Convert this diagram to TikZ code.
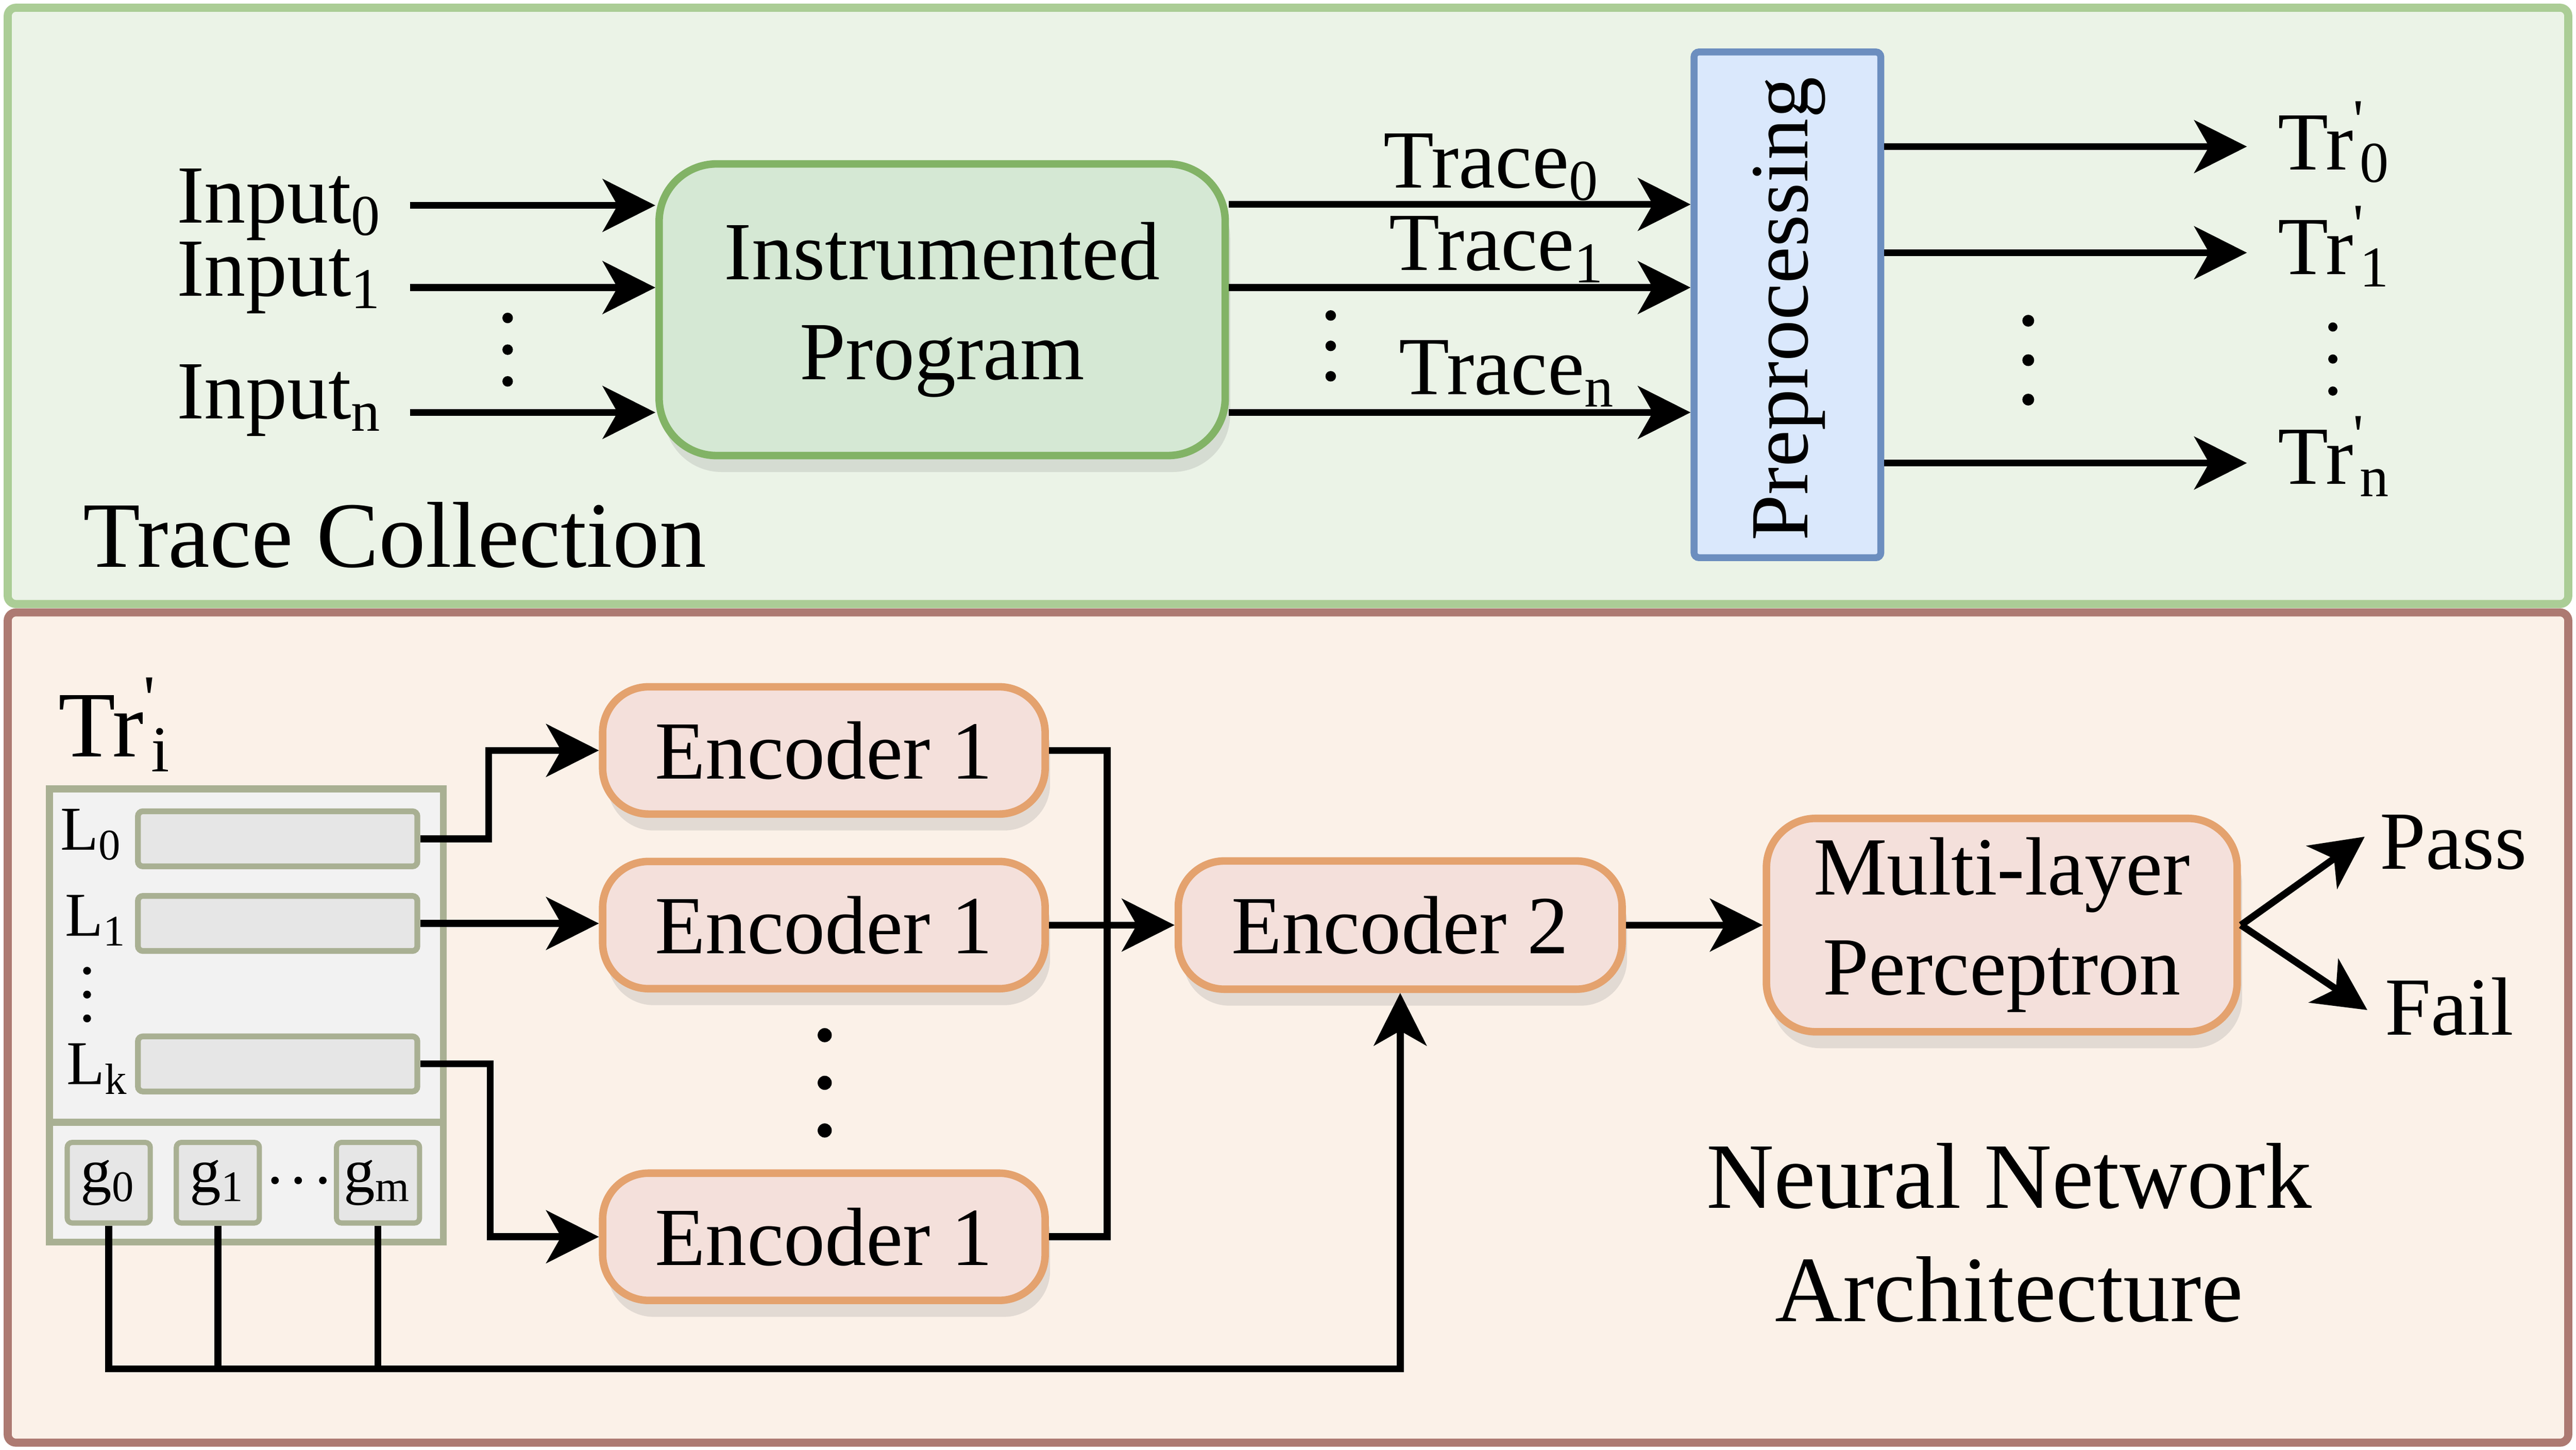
\documentclass[tikz,border=0pt]{standalone}
\usepackage{fontspec}
\setmainfont{Liberation Serif}
\usetikzlibrary{arrows.meta,shadows}

\definecolor{tcfill}{HTML}{EBF3E7}
\definecolor{tcdraw}{HTML}{ABCD96}
\definecolor{nnfill}{HTML}{FBF1E8}
\definecolor{nndraw}{HTML}{AD7A72}
\definecolor{progfill}{HTML}{D5E8D4}
\definecolor{progdraw}{HTML}{82B366}
\definecolor{prefill}{HTML}{DAE8FC}
\definecolor{predraw}{HTML}{6C8EBF}
\definecolor{encfill}{HTML}{F4E0DB}
\definecolor{encdraw}{HTML}{E4A26E}
\definecolor{trfill}{HTML}{F2F2F2}
\definecolor{trdraw}{HTML}{A9B093}
\definecolor{rowfill}{HTML}{E6E6E6}

\newcommand{\panelfont}{\fontsize{16.2}{19.6}\selectfont}
\newcommand{\lfont}{\fontsize{10.8}{13}\selectfont}
\newcommand{\trp}[1]{Tr\rlap{\textsuperscript{\textquotesingle}}\kern0.08em\textsubscript{#1}}

\tikzset{
  arr/.style={line width=1.2pt, -{Stealth[length=3.2mm,width=3.2mm,inset=0.9mm]}},
  wire/.style={line width=1.2pt},
  lbl/.style={anchor=base west, inner sep=0pt},
  panel/.style={line width=1.4pt, rounded corners=0.5mm},
  soft/.style={drop shadow={shadow xshift=0.3mm, shadow yshift=-1mm, opacity=0.2}},
  progbox/.style={draw=progdraw, fill=progfill, line width=1.3pt, rounded corners=3.5mm,
    align=center, soft, minimum width=3.444cm, minimum height=1.774cm},
  prebox/.style={draw=predraw, fill=prefill, line width=1.2pt, rounded corners=0.3mm,
    minimum width=1.136cm, minimum height=3.076cm},
  encbox/.style={draw=encdraw, fill=encfill, line width=1.3pt, rounded corners=2.8mm,
    align=center, soft, minimum width=2.692cm, minimum height=0.774cm},
  rowbox/.style={draw=trdraw, fill=rowfill, line width=1pt, rounded corners=0.3mm,
    minimum width=1.70cm, minimum height=0.335cm},
  gbox/.style={draw=trdraw, fill=rowfill, line width=0.9pt, rounded corners=0.3mm,
    minimum width=0.505cm, minimum height=0.49cm, inner sep=0pt, font=\lfont}
}

\begin{document}
\begin{tikzpicture}[x=0.01cm, y=-0.01cm, font=\fontsize{14.3}{17.3}\selectfont]
  \useasboundingbox (0,0) rectangle (1568,882.2);

  % Two panels
  \draw[panel, draw=tcdraw, fill=tcfill] (4.7,4.7) rectangle (1563.3,367.6);
  \draw[panel, draw=nndraw, fill=nnfill] (4.7,372.7) rectangle (1563.3,878);

  % Trace collection
  \node[progbox] (prog) at (573.5,188.5) {Instrumented\\Program};
  \node[prebox] (pre) at (1088,185.5) {};
  \node (pretext) at (1089,188) {\rotatebox{90}{Preprocessing}};

  \foreach \s/\y/\b in {0/125/135.7, 1/175/180, n/251/254.8} {
    \node[lbl] (in\s) at (107,\b) {Input\textsubscript{\s}};
    \coordinate (ins\s) at (249.5,\y);
    \draw[arr] (ins\s) -- (ins\s -| prog.west);
  }

  \foreach \s/\y/\x/\b in {0/124.4/841.6/114.3, 1/175/845/164.4, n/251/851/240} {
    \draw[arr] (prog.east |- 0,\y) -- (pre.west |- 0,\y);
    \node[lbl] (tr\s) at (\x,\b) {Trace\textsubscript{\s}};
  }

  \foreach \s/\y/\b in {0/89.2/103.3, 1/153.8/167, n/281.8/294.7} {
    \coordinate (out\s) at (1367.7,\y);
    \draw[arr] (pre.east |- out\s) -- (out\s);
    \node[lbl] (trp\s) at (1386,\b) {\trp{\s}};
  }

  \node[lbl, font=\panelfont] (tclabel) at (50,345) {Trace Collection};

  % Neural network architecture
  \node[lbl, font=\panelfont] (trpi) at (35,460.6) {\trp{i}};
  \node[draw=trdraw, fill=trfill, line width=1.2pt, minimum width=2.396cm,
    minimum height=2.756cm] (trbox) at (150,618) {};
  \draw[draw=trdraw, line width=1.3pt] (trbox.west |- 0,683) -- (trbox.east |- 0,683);

  \node[rowbox] (l0) at (169,510.5) {};
  \node[rowbox] (l1) at (169,562) {};
  \node[rowbox] (lk) at (169,647.5) {};
  \node[lbl, font=\lfont] (l0t) at (36,517.4) {L\textsubscript{0}};
  \node[lbl, font=\lfont] (l1t) at (39,569.8) {L\textsubscript{1}};
  \node[lbl, font=\lfont] (lkt) at (40,660) {L\textsubscript{k}};

  \node[gbox] (g0) at (66.2,719.8) {g\textsubscript{0}};
  \node[gbox] (g1) at (132.6,719.8) {g\textsubscript{1}};
  \node[gbox] (gm) at (230.1,719.8) {g\textsubscript{m}};

  \node[encbox] (enc1a) at (501.5,456.7) {Encoder 1};
  \node[encbox] (enc1b) at (501.5,563) {Encoder 1};
  \node[encbox] (enc1c) at (501.5,752.7) {Encoder 1};
  \node[encbox, minimum width=2.70cm, minimum height=0.78cm] (enc2) at (852.3,563) {Encoder 2};
  \node[encbox, rounded corners=3mm, minimum width=2.864cm, minimum height=1.255cm]
    (mlp) at (1218.5,563) {Multi-layer\\Perceptron};

  \draw[arr] (l0.east) -- ++(41.6,0) |- (enc1a.west);
  \draw[arr] (l1.east) -- (l1.east -| enc1b.west);
  \draw[arr] (lk.east) -- ++(42.5,0) |- (enc1c.west);

  \draw[wire] (enc1a.east) -- ++(35.5,0) |- (enc1c.east);
  \draw[arr] (enc1b.east) -- (enc2.west);
  \draw[arr] (enc2.east) -- (mlp.west);

  % Global features into encoder 2
  \coordinate (bus) at (852.3,833);
  \draw[arr] (g0.south) |- (bus) -- (enc2.south);
  \draw[wire] (g1.south) -- (g1.south |- bus);
  \draw[wire] (gm.south) -- (gm.south |- bus);

  % Outcome
  \coordinate (passtip) at (1439.4,509.2);
  \coordinate (failtip) at (1441,614.7);
  \draw[arr] (mlp.east) -- (passtip);
  \draw[arr] (mlp.east) -- (failtip);
  \node[lbl] (pass) at (1448,529) {Pass};
  \node[lbl] (fail) at (1451,630) {Fail};

  \node[align=center, font=\panelfont] (nnlabel) at (1223,750.3) {Neural Network\\Architecture};

  % Vertical dots
  \foreach \x/\y/\d/\r in {309/212.8/19.3/3.2, 810/210.5/18.5/3.2, 1234.6/219.2/24/3.6,
      1420/218.5/19.5/2.8, 502/659/29/4.3, 53/605.3/14.5/2.4} {
    \foreach \k in {-1,0,1}
      \fill (\x,{\y+\k*\d}) circle ({\r*0.01cm});
  }
  \foreach \x in {167.4,181.5,196.5}
    \fill (\x,718.4) circle (0.023cm);

\end{tikzpicture}
\end{document}
